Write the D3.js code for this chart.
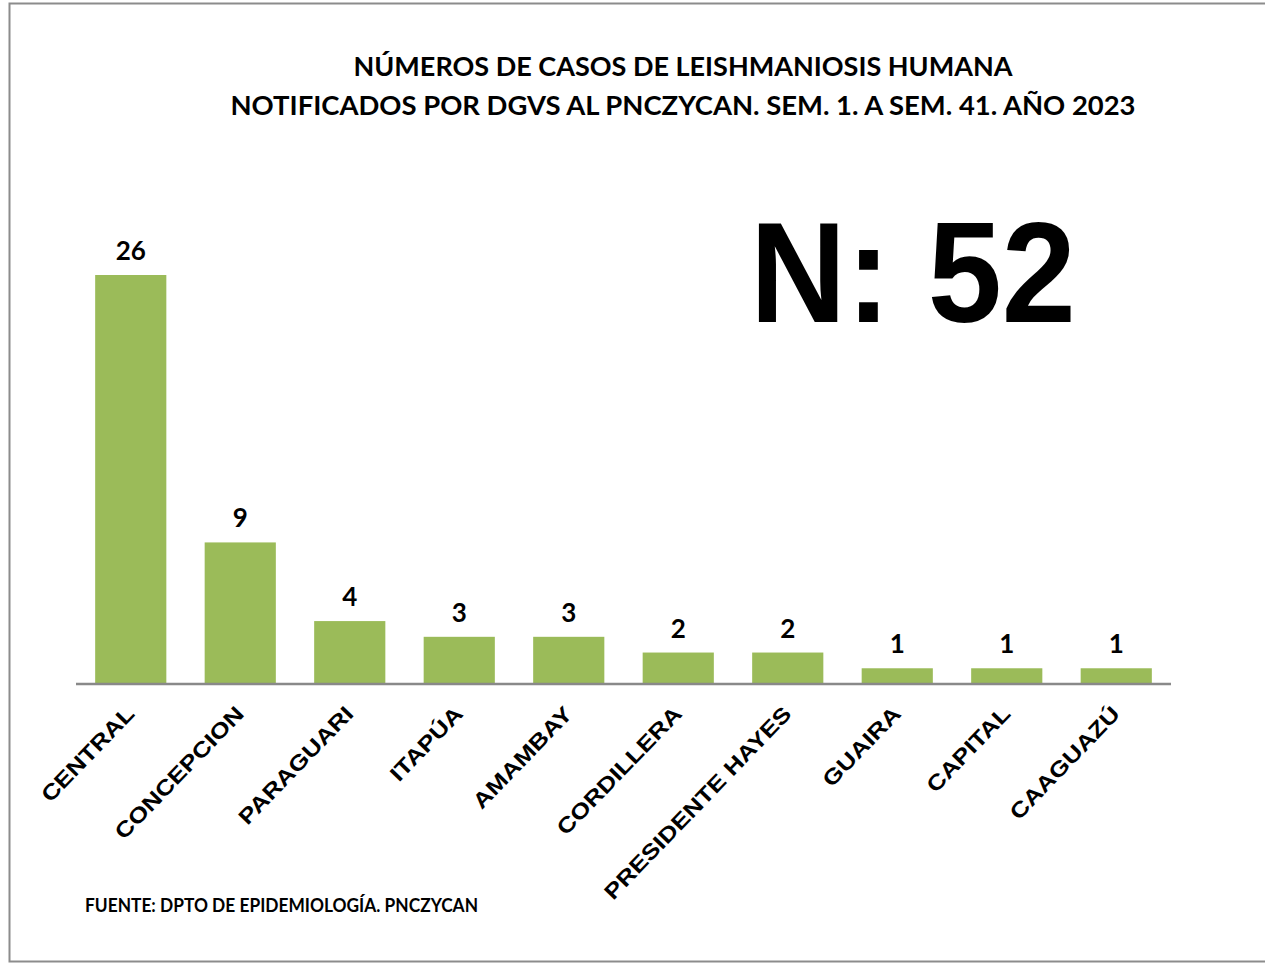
<!DOCTYPE html>
<html>
<head>
<meta charset="utf-8">
<script src="https://cdn.jsdelivr.net/npm/d3@7"></script>
<style>
  body { margin: 0; background: #fff; }
  svg { display: block; }
</style>
</head>
<body>
<div id="bar-chart"></div>
<script>
/* Leishmaniosis cases by department, 2023 */

const departments = ["CENTRAL", "CONCEPCION", "PARAGUARI", "ITAPÚA", "AMAMBAY",
                     "CORDILLERA", "PRESIDENTE HAYES", "GUAIRA", "CAPITAL", "CAAGUAZÚ"];
const cases = [26, 9, 4, 3, 3, 2, 2, 1, 1, 1];
const titleLines = ["NÚMEROS DE CASOS DE LEISHMANIOSIS HUMANA",
                    "NOTIFICADOS POR DGVS AL PNCZYCAN. SEM. 1. A SEM. 41. AÑO 2023"];
const totalLabel = "N: 52";
const sourceNote = "FUENTE: DPTO DE EPIDEMIOLOGÍA. PNCZYCAN";

const data = departments.map((d, i) => ({ name: d, value: cases[i] }));

const width = 1265;
const height = 963;
const margin = ({ top: 275, right: 94, bottom: 279, left: 76 }); // plot box, top = tallest bar

let svg = d3.select("#bar-chart")
            .append("svg")
            .attr("width", width)
            .attr("height", height);

// outer frame like the exported slide
svg.append("rect")
    .attr("x", 9.5)
    .attr("y", 3.5)
    .attr("width", width)
    .attr("height", 958)
    .attr("fill", "none")
    .attr("stroke", "#8c8c8c")
    .attr("stroke-width", 2);

const x = d3.scaleBand()
            .domain(departments)
            .range([margin.left, width - margin.right])
            .paddingInner(0.35)
            .paddingOuter(0.175);

const y = d3.scaleLinear()
            .domain([0, 26])
            .range([height - margin.bottom, margin.top]);

// bars
svg.append("g")
    .selectAll("rect")
    .data(data)
    .join("rect")
    .attr("fill", "#9BBB59")
    .attr("x", d => x(d.name))
    .attr("width", x.bandwidth())
    .attr("y", d => y(d.value))
    .attr("height", d => y(0) - y(d.value));

// value labels
svg.append("g")
    .selectAll("text")
    .data(data)
    .join("text")
    .text(d => d.value)
    .attr("x", d => x(d.name) + x.bandwidth() / 2)
    .attr("y", d => y(d.value) - 15)
    .attr("text-anchor", "middle")
    .style("font-family", "Lato, 'Open Sans', sans-serif")
    .style("font-weight", "bold")
    .style("font-size", "26px")
    .style("fill", "#000");

// x axis: only the baseline and rotated labels (stretched a bit, like the export)
const xAxis = g => g
    .attr("transform", `translate(0,${y(0)})`)
    .call(d3.axisBottom(x).tickSize(0).tickPadding(0))
    .call(g => g.select(".domain")
        .attr("d", `M${margin.left},0H${width - margin.right}`)
        .attr("stroke", "#898989")
        .attr("stroke-width", 2.5))
    .call(g => g.selectAll(".tick text")
        .attr("transform", "translate(5,31) rotate(-46) scale(1.2,1)")
        .attr("dy", 0)
        .attr("text-anchor", "end")
        .style("font-family", "'Liberation Sans', Arial, sans-serif")
        .style("font-weight", "bold")
        .style("font-size", "21.5px")
        .style("fill", "#000"));

svg.append("g")
    .call(xAxis);

// title
svg.append("g")
    .selectAll("text")
    .data(titleLines)
    .join("text")
    .text(d => d)
    .attr("x", 683)
    .attr("y", (d, i) => 76 + i * 39)
    .attr("text-anchor", "middle")
    .attr("textLength", (d, i) => i === 0 ? 659 : 905)
    .attr("lengthAdjust", "spacingAndGlyphs")
    .style("font-family", "Lato, 'Open Sans', sans-serif")
    .style("font-weight", "bold")
    .style("font-size", "27px")
    .style("fill", "#000");

// big total
svg.append("text")
    .text(totalLabel)
    .attr("x", 750)
    .attr("y", 322)
    .attr("textLength", 326)
    .attr("lengthAdjust", "spacingAndGlyphs")
    .style("font-family", "'Liberation Sans', Arial, sans-serif")
    .style("font-weight", "bold")
    .style("font-size", "142px")
    .style("fill", "#000");

// source note
svg.append("text")
    .text(sourceNote)
    .attr("x", 85)
    .attr("y", 912)
    .attr("textLength", 393)
    .attr("lengthAdjust", "spacingAndGlyphs")
    .style("font-family", "Lato, 'Open Sans', sans-serif")
    .style("font-weight", "bold")
    .style("font-size", "19px")
    .style("fill", "#000");
</script>
</body>
</html>
